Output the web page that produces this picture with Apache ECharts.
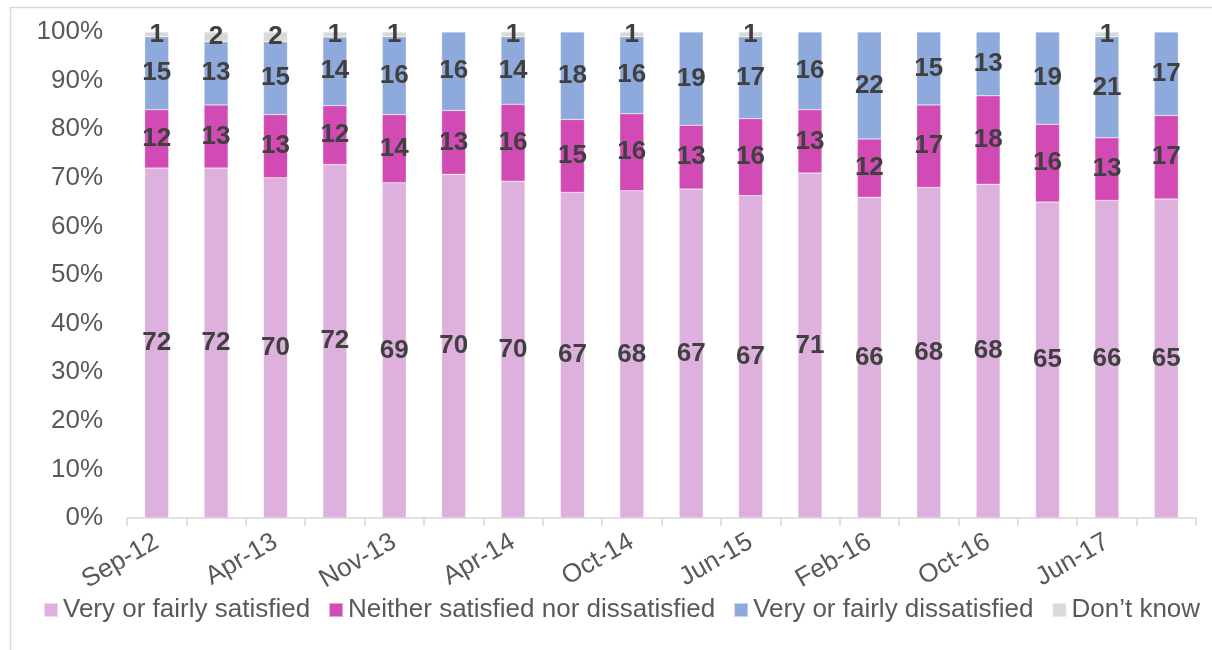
<!DOCTYPE html>
<html>
<head>
<meta charset="utf-8">
<style>
  html, body { margin: 0; padding: 0; background: #ffffff; }
  #chart { width: 1212px; height: 650px; }
</style>
<script src="https://cdn.jsdelivr.net/npm/echarts@6/dist/echarts.min.js"></script>
</head>
<body>
<div id="chart"></div>
<script>
// Survey waves (only every other one is labelled on the axis)
const categories = ['Sep-12', 'Dec-12', 'Apr-13', 'Aug-13', 'Nov-13', 'Feb-14', 'Apr-14', 'Jul-14', 'Oct-14',
  'Mar-15', 'Jun-15', 'Sep-15', 'Feb-16', 'Jun-16', 'Oct-16', 'Mar-17', 'Jun-17', 'Sep-17'];

// Reported percentages per wave
const satisfied    = [72, 72, 70, 72, 69, 70, 70, 67, 68, 67, 67, 71, 66, 68, 68, 65, 66, 65];
const neither      = [12, 13, 13, 12, 14, 13, 16, 15, 16, 13, 16, 13, 12, 17, 18, 16, 13, 17];
const dissatisfied = [15, 13, 15, 14, 16, 16, 14, 18, 16, 19, 17, 16, 22, 15, 13, 19, 21, 17];
const dontKnow     = [1, 2, 2, 1, 1, null, 1, null, 1, null, 1, null, null, null, null, null, 1, null];

const seriesNames = ['Very or fairly satisfied', 'Neither satisfied nor dissatisfied',
  'Very or fairly dissatisfied', 'Don\u2019t know'];
const seriesValues = [satisfied, neither, dissatisfied, dontKnow];
const colors = ['#DEB0DD', '#D24AB4', '#8EAADC', '#D9D9D9'];

// 100% stacked: each column is scaled to its own total
const totals = categories.map((_, i) =>
  seriesValues.reduce((s, arr) => s + (arr[i] == null ? 0 : arr[i]), 0));

const FONT = '"Liberation Sans", Arial, sans-serif';

const series = seriesValues.map((arr, k) => ({
  name: seriesNames[k],
  type: 'bar',
  stack: 'total',
  barWidth: 24,
  itemStyle: { color: colors[k], borderColor: 'rgba(255,255,255,0.5)', borderWidth: 0.5 },
  label: {
    show: true,
    position: 'inside',
    color: '#404040',
    fontFamily: FONT,
    fontWeight: 'bold',
    fontSize: 26,
    formatter: p => (arr[p.dataIndex] == null ? '' : String(arr[p.dataIndex]))
  },
  emphasis: { disabled: true },
  data: arr.map((v, i) => (v == null ? null : v / totals[i] * 100))
}));

const chart = echarts.init(document.getElementById('chart'), null, { renderer: 'canvas' });
chart.setOption({
  animation: false,
  color: colors,
  graphic: [{
    type: 'rect',
    shape: { x: 10.5, y: 7.5, width: 1400, height: 800 },
    style: { fill: 'none', stroke: '#D9D9D9', lineWidth: 1.5 },
    silent: true,
    z: -10
  }],
  grid: { left: 127, right: 16, top: 32, bottom: 132, containLabel: false },
  legend: {
    left: 38,
    top: 592,
    itemWidth: 14,
    itemHeight: 14,
    itemGap: 18,
    icon: 'rect',
    textStyle: { color: '#595959', fontSize: 26, fontFamily: FONT },
    data: seriesNames
  },
  xAxis: {
    type: 'category',
    data: categories,
    axisLine: { show: true, lineStyle: { color: '#D9D9D9', width: 1.5 } },
    axisTick: { show: true, length: 8, interval: 0, lineStyle: { color: '#D9D9D9', width: 1.5 } },
    axisLabel: {
      interval: 1,
      rotate: 30,
      margin: 22,
      color: '#595959',
      fontSize: 26,
      fontFamily: FONT
    }
  },
  yAxis: {
    type: 'value',
    min: 0,
    max: 100,
    interval: 10,
    axisLine: { show: false },
    axisTick: { show: false },
    splitLine: { show: false },
    axisLabel: {
      margin: 24,
      color: '#595959',
      fontSize: 26,
      fontFamily: FONT,
      formatter: '{value}%'
    }
  },
  series: series
});
</script>
</body>
</html>
